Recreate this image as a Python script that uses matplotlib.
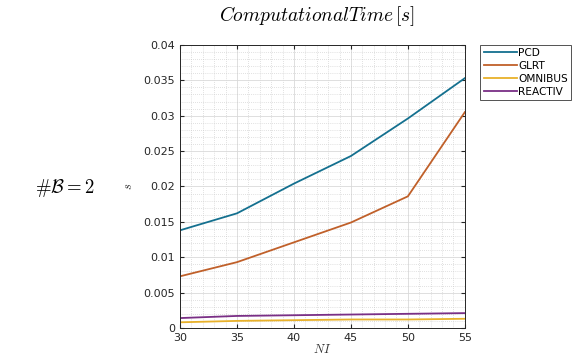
import matplotlib
matplotlib.use("Agg")
import matplotlib.pyplot as plt
from matplotlib.ticker import MultipleLocator

plt.rcParams['mathtext.fontset'] = 'cm'
plt.rcParams['font.family'] = ['DejaVu Sans']

NI = [30, 35, 40, 45, 50, 55]
pcd = [0.0138, 0.0162, 0.0204, 0.0243, 0.0296, 0.0353]
glrt = [0.0073, 0.0093, 0.0121, 0.0149, 0.0186, 0.0305]
omnibus = [0.0008, 0.0010, 0.0011, 0.0012, 0.0012, 0.0013]
reactiv = [0.0014, 0.0017, 0.0018, 0.0019, 0.0020, 0.0021]
series_names = ['PCD', 'GLRT', 'OMNIBUS', 'REACTIV']
colors = ['#14708f', '#c0602a', '#e8b12a', '#7a2f86']

fig = plt.figure(figsize=(5.72, 3.62), dpi=100)
ax = fig.add_axes([0.3147, 0.094, 0.498, 0.782])

for y, c, n in zip([pcd, glrt, omnibus, reactiv], colors, series_names):
    ax.plot(NI, y, color=c, lw=1.3, label=n)

ax.set_xlim(30, 55)
ax.set_ylim(0, 0.04)
ax.xaxis.set_major_locator(MultipleLocator(5))
ax.xaxis.set_minor_locator(MultipleLocator(1))
ax.yaxis.set_major_locator(MultipleLocator(0.005))
ax.yaxis.set_minor_locator(MultipleLocator(0.001))
ax.yaxis.set_major_formatter(plt.FuncFormatter(lambda v, p: ('%g' % round(v, 4))))
ax.grid(which='major', color='#d9d9d9', lw=0.6, ls='-')
ax.grid(which='minor', color='#c4c4c4', lw=0.5, ls=(0, (1, 2)))
ax.set_axisbelow(True)
ax.tick_params(which='both', direction='in', top=True, right=True, labelsize=8, colors='#262626')
ax.tick_params(which='major', length=3)
ax.tick_params(which='minor', length=0)
for s in ax.spines.values():
    s.set_color('#262626')
    s.set_linewidth(0.7)

ax.set_xlabel(r'$NI$', fontsize=9, labelpad=0, color='#333333')
ax.set_ylabel(r'$s$', fontsize=9, labelpad=6, color='#333333')
fig.text(0.555, 0.955, r'$Computational Time\,[s]$', fontsize=14, ha='center', va='center')
fig.text(0.114, 0.48, r'$\#\mathcal{B}=2$', fontsize=13.5, ha='center', va='center')

leg = ax.legend(loc='upper left', bbox_to_anchor=(0.840, 0.877), bbox_transform=fig.transFigure,
                fontsize=7.6, frameon=True, fancybox=False, edgecolor='#262626',
                handlelength=3.2, handletextpad=0.1, borderpad=0.3, labelspacing=0.3,
                borderaxespad=0)
leg.get_frame().set_linewidth(0.7)

fig.savefig('out.png', dpi=100)
